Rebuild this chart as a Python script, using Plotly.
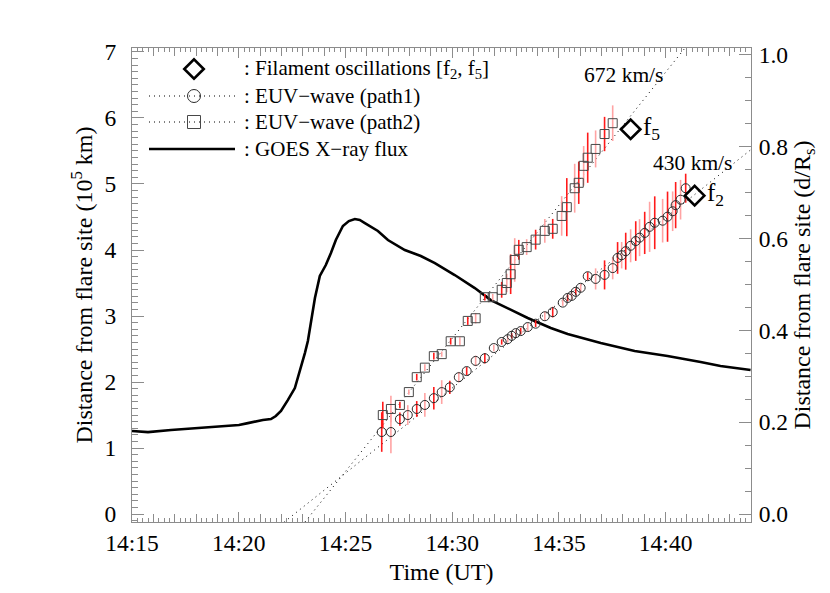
import plotly.graph_objects as go

# ---------------- data (time in minutes after 14:00 UT, distance in 10^5 km) ----------------
goes_t = [15.00, 15.75, 16.83, 18.09, 19.17, 20.01, 20.43, 21.13, 21.51, 21.74, 21.98, 22.07,
          22.30, 22.63, 22.91, 23.10, 23.24, 23.38, 23.57, 23.80, 24.08, 24.32, 24.55, 24.88,
          25.16, 25.44, 25.67, 25.91, 26.24, 26.52, 26.99, 27.45, 27.78, 28.53, 29.19, 30.12,
          31.06, 31.81, 32.60, 33.54, 34.62, 35.41, 36.96, 38.55, 40.09, 40.89, 41.64, 42.57, 43.98]
goes_v = [1.258, 1.242, 1.273, 1.303, 1.333, 1.349, 1.378, 1.425, 1.439, 1.485, 1.561, 1.606,
          1.727, 1.909, 2.212, 2.439, 2.622, 2.924, 3.273, 3.607, 3.773, 3.954, 4.151, 4.364,
          4.439, 4.470, 4.455, 4.409, 4.348, 4.288, 4.151, 4.061, 4.000, 3.909, 3.803, 3.621,
          3.424, 3.242, 3.121, 2.970, 2.819, 2.727, 2.591, 2.470, 2.394, 2.349, 2.303, 2.242, 2.182]

path1_t = [26.70, 27.13, 27.55, 27.92, 28.34, 28.72, 29.14, 29.51, 29.89, 30.31, 30.68, 31.10,
           31.53, 31.95, 32.32, 32.60, 32.79, 32.98, 33.21, 33.54, 33.91, 34.34, 34.71, 35.18,
           35.41, 35.60, 35.79, 36.02, 36.35, 36.72, 37.14, 37.52, 37.75, 37.94, 38.13, 38.36,
           38.60, 38.78, 39.02, 39.25, 39.49, 39.86, 40.09, 40.33, 40.47, 40.70, 40.94]
path1_v = [1.243, 1.243, 1.438, 1.500, 1.592, 1.653, 1.756, 1.848, 1.920, 2.074, 2.166, 2.320,
           2.361, 2.515, 2.607, 2.649, 2.700, 2.741, 2.772, 2.833, 2.884, 2.997, 3.059, 3.203,
           3.274, 3.305, 3.367, 3.428, 3.603, 3.562, 3.623, 3.726, 3.880, 3.921, 3.982, 4.064,
           4.136, 4.187, 4.259, 4.351, 4.413, 4.444, 4.505, 4.587, 4.680, 4.762, 4.936]
path1_err = [0.30, 0.32, 0.10, 0.15, 0.12, 0.18, 0.17, 0.18, 0.10, 0.08, 0.06, 0.08,
             0.08, 0.05, 0.04, 0.05, 0.04, 0.05, 0.05, 0.06, 0.05, 0.07, 0.08, 0.05,
             0.05, 0.06, 0.05, 0.06, 0.06, 0.16, 0.22, 0.17, 0.24, 0.20, 0.28, 0.25,
             0.30, 0.28, 0.32, 0.38, 0.40, 0.33, 0.38, 0.30, 0.35, 0.30, 0.22]

path2_t = [26.75, 27.13, 27.55, 27.97, 28.34, 28.72, 29.14, 29.51, 29.93, 30.36, 30.73, 31.10,
           31.53, 31.90, 32.32, 32.56, 32.74, 32.93, 33.12, 33.49, 33.91, 34.34, 34.71, 35.13,
           35.37, 35.74, 35.93, 36.16, 36.35, 36.72, 37.14, 37.52]
path2_v = [1.500, 1.592, 1.653, 1.848, 2.074, 2.218, 2.392, 2.423, 2.618, 2.618, 2.926, 2.967,
           3.285, 3.285, 3.397, 3.500, 3.633, 3.849, 4.003, 4.044, 4.157, 4.290, 4.321, 4.516,
           4.649, 4.936, 5.018, 5.275, 5.398, 5.531, 5.757, 5.921]
path2_err = [0.20, 0.20, 0.05, 0.04, 0.05, 0.05, 0.05, 0.04, 0.05, 0.06, 0.06, 0.08,
             0.05, 0.05, 0.12, 0.14, 0.30, 0.33, 0.15, 0.12, 0.15, 0.18, 0.15, 0.30,
             0.44, 0.37, 0.32, 0.30, 0.38, 0.28, 0.26, 0.27]

filament_t = [41.36, 38.36]
filament_v = [4.823, 5.829]
filament_labels = ["f<sub>2</sub>", "f<sub>5</sub>"]

fit_speed_kms = [430, 672]
fit_t0 = [22.60, 23.40]          # time where each fit line crosses zero distance
fit_labels = ["430 km/s", "672 km/s"]
fit_label_t = [41.26, 38.03]
fit_label_v = [5.32, 6.65]

x_tick_minutes = [15, 20, 25, 30, 35, 40]
x_tick_labels = ["14:15", "14:20", "14:25", "14:30", "14:35", "14:40"]
x_range = [15, 44]
y_range = [-0.12, 7.06]
R_sun = 6.96  # 10^5 km
r_tick_vals = [0.0, 0.2, 0.4, 0.6, 0.8, 1.0]
r_tick_labels = ["0.0", "0.2", "0.4", "0.6", "0.8", "1.0"]

legend_texts = [": Filament oscillations [f<sub>2</sub>, f<sub>5</sub>]",
                ": EUV\u2212wave (path1)",
                ": EUV\u2212wave (path2)",
                ": GOES X\u2212ray flux"]

# ---------------- styling ----------------
FONT = "Liberation Serif"
AX = "#8c8c8c"
RED = "#ff1a1a"
PINK = "#ffa3a3"
DOT = "1px,4px"
TICK_SIZE = 23.5
TITLE_SIZE = 24

fig = go.Figure()

# GOES curve
fig.add_trace(go.Scatter(x=goes_t, y=goes_v, mode="lines",
                         line=dict(color="black", width=2.6), showlegend=False))

# fit lines (drawn across the whole frame, clipped by the axes)
for spd, t0 in zip(fit_speed_kms, fit_t0):
    slope = spd * 60 / 1e5
    t_start = t0 + y_range[0] / slope
    t_end = min(x_range[1], t0 + y_range[1] / slope)
    fig.add_trace(go.Scatter(x=[t_start, t_end], y=[y_range[0], slope * (t_end - t0)], mode="lines",
                             line=dict(color="black", width=1, dash=DOT), showlegend=False))

# error bars (alternating red/pink) + markers
def add_series(t, v, e, symbol, mcolor):
    for k, col in ((0, RED), (1, PINK)):
        fig.add_trace(go.Scatter(
            x=t[k::2], y=v[k::2], mode="markers",
            marker=dict(size=1, opacity=0),
            error_y=dict(type="data", array=e[k::2], color=col, thickness=1.6, width=0),
            showlegend=False, hoverinfo="skip"))
    fig.add_trace(go.Scatter(x=t, y=v, mode="markers",
                             marker=dict(symbol=symbol, size=9, color=mcolor,
                                         line=dict(color=mcolor, width=1)),
                             showlegend=False))

add_series(path1_t, path1_v, path1_err, "circle-open", "#2a2a2a")
add_series(path2_t, path2_v, path2_err, "square-open", "#474747")

# filament oscillation diamonds
fig.add_trace(go.Scatter(x=filament_t, y=filament_v, mode="markers",
                         marker=dict(symbol="diamond-open", size=15, color="black",
                                     line=dict(color="black", width=2.6)),
                         showlegend=False))

# invisible anchors for the right axis and the fine-tick axis
fig.add_trace(go.Scatter(x=[x_range[0]], y=[0], yaxis="y2", mode="markers",
                         marker=dict(opacity=0), showlegend=False, hoverinfo="skip"))
fig.add_trace(go.Scatter(x=[x_range[0]], y=[0], xaxis="x3", mode="markers",
                         marker=dict(opacity=0), showlegend=False, hoverinfo="skip"))

# ---------------- custom legend (pixel positions on an overlay axis) ----------------
leg_rows = [61, 88, 114, 141]
leg_x0, leg_x1, leg_xm, leg_xt = 141, 227, 186, 234
for i, row in enumerate(leg_rows):
    if i in (1, 2):
        fig.add_trace(go.Scatter(x=[leg_x0, leg_x1], y=[row, row], mode="lines",
                                 xaxis="x4", yaxis="y4",
                                 line=dict(color="black", width=1, dash=DOT),
                                 showlegend=False, hoverinfo="skip"))
    if i == 3:
        fig.add_trace(go.Scatter(x=[leg_x0, leg_x1], y=[row, row], mode="lines",
                                 xaxis="x4", yaxis="y4",
                                 line=dict(color="black", width=2.6),
                                 showlegend=False, hoverinfo="skip"))
leg_syms = [("diamond-open", 15, 2.6, "black"), ("circle-open", 13, 1, "#2a2a2a"),
            ("square-open", 13, 1, "#474747")]
for row, (sym, sz, lw, col) in zip(leg_rows[:3], leg_syms):
    fig.add_trace(go.Scatter(x=[leg_xm], y=[row], mode="markers", xaxis="x4", yaxis="y4",
                             marker=dict(symbol=sym, size=sz, color=col, line=dict(color=col, width=lw)),
                             showlegend=False, hoverinfo="skip"))

annotations = []
for row, txt in zip(leg_rows, legend_texts):
    annotations.append(dict(x=leg_xt, y=row, xref="x4", yref="y4", text=txt, showarrow=False,
                            xanchor="left", yanchor="middle",
                            font=dict(family=FONT, size=21, color="black")))

# speed labels and f labels
for t, v, lab in zip(fit_label_t, fit_label_v, fit_labels):
    annotations.append(dict(x=t, y=v, xref="x", yref="y", text=lab, showarrow=False,
                            font=dict(family=FONT, size=21.5, color="black")))
for t, v, lab in zip(filament_t, filament_v, filament_labels):
    annotations.append(dict(x=t, y=v, xref="x", yref="y", text=lab, showarrow=False,
                            xanchor="left", yanchor="middle", xshift=10, yshift=1,
                            font=dict(family=FONT, size=25, color="black")))

fig.update_layout(
    width=830, height=593,
    margin=dict(l=124, r=87, t=40, b=79, autoexpand=False),
    paper_bgcolor="white", plot_bgcolor="white",
    font=dict(family=FONT, color="black"),
    annotations=annotations,
    xaxis=dict(range=x_range, tickmode="array", tickvals=x_tick_minutes, ticktext=x_tick_labels,
               ticks="inside", ticklen=10, tickwidth=1, tickcolor=AX,
               showline=True, linecolor=AX, linewidth=1, mirror="ticks",
               showgrid=False, zeroline=False,
               minor=dict(dtick=1, tick0=15, ticks="inside", ticklen=8, tickcolor=AX, showgrid=False),
               tickfont=dict(family=FONT, size=TICK_SIZE, color="black"),
               title=dict(text="Time (UT)", font=dict(family=FONT, size=TITLE_SIZE, color="black"),
                          standoff=7)),
    xaxis3=dict(overlaying="x", range=x_range, tickmode="linear", tick0=15, dtick=0.25,
                ticks="inside", ticklen=4, tickcolor=AX, showticklabels=False,
                showline=True, linecolor=AX, mirror="ticks", showgrid=False, zeroline=False,
                fixedrange=True),
    yaxis=dict(range=y_range, tickmode="linear", tick0=0, dtick=1, ticks="inside", ticklen=12,
               tickcolor=AX, showline=True, linecolor=AX, linewidth=1, showgrid=False, zeroline=False,
               ticklabelstandoff=10,
               minor=dict(dtick=0.1, tick0=0, ticks="inside", ticklen=6, tickcolor=AX, showgrid=False),
               tickfont=dict(family=FONT, size=TICK_SIZE, color="black"),
               title=dict(text="Distance from flare site (10<sup>5</sup> km)",
                          font=dict(family=FONT, size=TITLE_SIZE, color="black"), standoff=5)),
    yaxis2=dict(overlaying="y", side="right", range=[y_range[0] / R_sun, y_range[1] / R_sun],
                tickmode="array", tickvals=r_tick_vals, ticktext=r_tick_labels,
                ticks="inside", ticklen=12, tickcolor=AX, ticklabelstandoff=2,
                showline=True, linecolor=AX, linewidth=1, showgrid=False, zeroline=False,
                minor=dict(dtick=0.05, tick0=0, ticks="inside", ticklen=6, tickcolor=AX, showgrid=False),
                tickfont=dict(family=FONT, size=TICK_SIZE, color="black"),
                title=dict(text="Distance from flare site (d/R<sub>s</sub>)",
                           font=dict(family=FONT, size=TITLE_SIZE, color="black"), standoff=5)),
    xaxis4=dict(overlaying="x", range=[124, 743], visible=False, fixedrange=True),
    yaxis4=dict(overlaying="y", range=[514, 40], visible=False, fixedrange=True),
)

fig.write_html("out.html")
